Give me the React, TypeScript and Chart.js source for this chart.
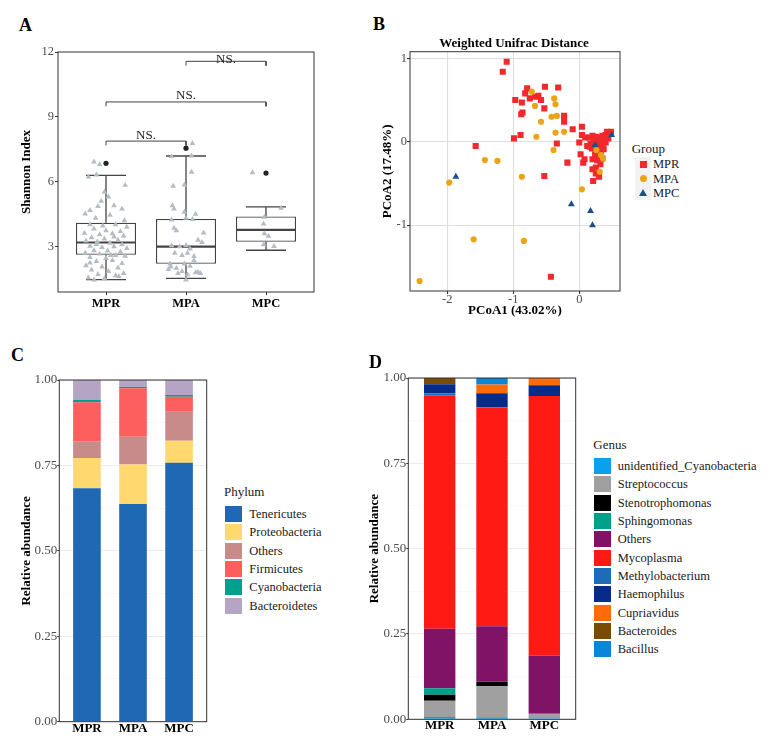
import React, { useEffect, useRef } from 'react';
import { Chart, registerables } from 'chart.js';

Chart.register(...registerables);

const SERIF = '"Liberation Serif", "Times New Roman", "DejaVu Serif", serif';

const groups = ['MPR', 'MPA', 'MPC'];

// ---------- Panel A: Shannon index ----------
const shannonTicks = [3, 6, 9, 12];
const boxLow = [1.47, 1.53, 2.83];
const boxQ1 = [2.62, 2.21, 3.22];
const boxMedian = [3.19, 3.0, 3.77];
const boxQ3 = [4.1, 4.28, 4.39];
const boxHigh = [6.29, 7.19, 4.84];
const outlierGroup = [1, 2, 3];
const outlierValue = [6.85, 7.55, 6.4];
// [jitter offset, shannon]
const shannonMPR = [
  [-0.15, 6.92], [-0.08, 6.8], [-0.22, 6.22], [-0.12, 6.32], [0.24, 5.84], [-0.02, 5.52], [0.03, 5.3], [-0.06, 5.1],
  [-0.2, 4.68], [-0.1, 4.86], [0.1, 4.9], [0.2, 4.74], [-0.26, 4.52], [-0.13, 4.32], [0.05, 4.46], [0.23, 4.2],
  [-0.2, 4.02], [-0.04, 3.96], [0.12, 4.02], [0.26, 3.9], [-0.15, 3.82], [0.0, 3.74], [0.18, 3.7], [-0.27, 3.62],
  [-0.08, 3.56], [0.08, 3.6], [0.22, 3.5], [-0.18, 3.42], [-0.02, 3.36], [0.15, 3.3], [-0.25, 3.26], [-0.11, 3.22],
  [0.05, 3.16], [0.2, 3.1], [-0.2, 3.02], [-0.05, 2.96], [0.1, 3.0], [0.26, 2.92], [-0.15, 2.82], [0.02, 2.8],
  [0.18, 2.76], [-0.26, 2.7], [-0.08, 2.66], [0.12, 2.6], [0.24, 2.56], [-0.2, 2.5], [0.0, 2.46], [-0.12, 2.32],
  [0.08, 2.36], [0.2, 2.22], [-0.25, 2.12], [-0.05, 2.06], [0.15, 2.02], [-0.18, 1.92], [0.03, 1.86], [0.22, 1.76],
  [-0.1, 1.72], [0.12, 1.66], [-0.22, 1.56], [-0.02, 1.52], [0.16, 1.62], [-0.15, 1.46], [0.06, 2.6], [-0.12, 3.1],
  [0.1, 3.45], [-0.2, 2.25],
];
const shannonMPA = [
  [0.08, 7.78], [-0.18, 7.17], [0.07, 7.2], [0.07, 6.45], [-0.16, 5.8], [-0.02, 5.86], [-0.17, 4.9], [-0.15, 4.74],
  [-0.02, 4.6], [0.12, 4.5], [-0.18, 4.24], [0.08, 4.26], [0.0, 4.32], [-0.15, 3.86], [-0.12, 3.74], [0.22, 3.64],
  [0.15, 3.3], [0.2, 3.2], [-0.18, 3.05], [-0.08, 3.0], [0.0, 3.06], [0.05, 2.9], [-0.14, 2.7], [-0.05, 2.6],
  [0.02, 2.7], [0.1, 2.55], [-0.2, 2.2], [-0.12, 2.0], [-0.19, 2.06], [-0.05, 1.86], [0.05, 2.1], [0.12, 1.8],
  [0.18, 1.76], [0.02, 1.7], [-0.1, 1.76], [0.0, 1.46], [0.15, 1.82], [-0.02, 2.2], [0.1, 2.36], [-0.22, 1.95],
];
const shannonMPC = [
  [-0.17, 6.42], [0.19, 4.78], [-0.02, 4.36], [-0.03, 4.05], [-0.02, 3.6], [0.03, 3.48], [-0.03, 3.09], [0.1, 3.01],
];
// [from group, to group, height]
const brackets = [[1, 2, 7.88], [1, 3, 9.69], [2, 3, 11.57]];
const bracketLabels = ['NS.', 'NS.', 'NS.'];
const bracketLabelY = [7.96, 9.82, 11.49];

// ---------- Panel B: PCoA ----------
const pcoaTicksX = [-2, -1, 0];
const pcoaTicksY = [-1, 0, 1];
const pcoaMPR = [
  [-1.1, 0.96], [-1.16, 0.84], [-0.97, 0.5], [-0.87, 0.47], [-0.79, 0.64], [-0.82, 0.58], [-0.75, 0.52], [-0.67, 0.54],
  [-0.62, 0.55], [-0.58, 0.5], [-0.52, 0.66], [-0.32, 0.65], [-0.53, 0.4], [-0.86, 0.35], [-0.88, 0.33], [-0.23, 0.31],
  [-0.23, 0.24], [-0.1, 0.15], [0.04, 0.18], [0.04, 0.08], [0.09, 0.05], [-0.99, 0.04], [-0.89, 0.08], [-1.57, -0.05],
  [-0.34, -0.02], [0.0, -0.01], [0.02, -0.15], [0.08, -0.21], [0.06, -0.25], [-0.18, -0.25], [-0.53, -0.41], [0.2, -0.21],
  [0.2, -0.33], [0.25, -0.31], [0.25, -0.38], [0.21, -0.47], [0.3, -0.42], [0.16, -0.06], [-0.43, -1.62],
  [0.15, 0.05], [0.2, 0.07], [0.25, 0.06], [0.3, 0.05], [0.35, 0.07], [0.4, 0.08], [0.45, 0.1], [0.48, 0.12], [0.42, 0.12],
  [0.22, 0.02], [0.28, 0.0], [0.33, 0.02], [0.38, 0.03], [0.44, 0.04], [0.17, -0.02], [0.25, -0.04], [0.3, -0.06],
  [0.36, -0.03], [0.4, -0.01], [0.28, -0.1], [0.33, -0.12], [0.37, -0.09], [0.3, -0.17], [0.35, -0.2], [0.27, -0.22],
  [0.32, -0.27], [0.24, -0.15], [0.19, -0.08], [0.12, -0.05],
];
const pcoaMPA = [
  [-0.72, 0.6], [-0.67, 0.43], [-0.38, 0.52], [-0.36, 0.45], [-0.42, 0.3], [-0.34, 0.31], [-0.58, 0.24], [-0.65, 0.06],
  [-0.36, 0.11], [-0.23, 0.12], [-0.39, -0.1], [-1.43, -0.22], [-1.24, -0.23], [-0.87, -0.42], [-1.97, -0.49], [0.04, -0.57],
  [-1.6, -1.17], [-0.84, -1.19], [-2.42, -1.67], [0.31, -0.36], [0.36, -0.2], [0.26, -0.1], [0.33, -0.16],
];
const pcoaMPC = [
  [-1.87, -0.42], [-0.12, -0.75], [0.17, -0.83], [0.2, -1.0], [0.24, -0.04], [0.49, 0.08],
];

// ---------- Panel C: phylum ----------
const phylumNames = ['Tenericutes', 'Proteobacteria', 'Others', 'Firmicutes', 'Cyanobacteria', 'Bacteroidetes'];
const phylumColors = ['#1F68B4', '#FFD970', '#C98B8A', '#FD5E5E', '#00A08F', '#B6A4C4'];
const phylumMPR = [0.683, 0.089, 0.049, 0.114, 0.007, 0.058];
const phylumMPA = [0.637, 0.116, 0.081, 0.142, 0.004, 0.02];
const phylumMPC = [0.758, 0.064, 0.085, 0.044, 0.005, 0.044];

// ---------- Panel D: genus ----------
const genusNames = ['unidentified_Cyanobacteria', 'Streptococcus', 'Stenotrophomonas', 'Sphingomonas', 'Others',
  'Mycoplasma', 'Methylobacterium', 'Haemophilus', 'Cupriavidus', 'Bacteroides', 'Bacillus'];
const genusColors = ['#0AA0EA', '#A0A0A0', '#000000', '#00A08A', '#801366', '#FF1B13', '#1F6BB8', '#062C87',
  '#FF6A0A', '#7B4A05', '#0A86D6'];
const genusMPR = [0.007, 0.047, 0.018, 0.019, 0.174, 0.683, 0.007, 0.027, 0.0, 0.018, 0.0];
const genusMPA = [0.006, 0.091, 0.014, 0.001, 0.161, 0.64, 0.002, 0.04, 0.026, 0.0, 0.019];
const genusMPC = [0.003, 0.013, 0.002, 0.0, 0.168, 0.761, 0.0, 0.032, 0.021, 0.0, 0.0];

const abundanceTicks = [0, 0.125, 0.25, 0.375, 0.5, 0.625, 0.75, 0.875, 1];

// ---------- helpers ----------
const framePlugin = {
  id: 'frame',
  afterDraw(chart: any) {
    const { ctx, chartArea: a } = chart;
    ctx.save();
    ctx.strokeStyle = '#333333';
    ctx.lineWidth = 1;
    ctx.strokeRect(a.left, a.top, a.right - a.left, a.bottom - a.top);
    ctx.restore();
  },
};

const bracketTextPlugin = {
  id: 'bracketText',
  afterDatasetsDraw(chart: any) {
    const { ctx } = chart;
    const x = chart.scales.x;
    const y = chart.scales.y;
    ctx.save();
    ctx.font = `13px ${SERIF}`;
    ctx.fillStyle = '#222';
    ctx.textAlign = 'center';
    ctx.textBaseline = 'alphabetic';
    brackets.forEach((b, i) => {
      ctx.fillText(bracketLabels[i], x.getPixelForValue((b[0] + b[1]) / 2), y.getPixelForValue(bracketLabelY[i]));
    });
    ctx.restore();
  },
};

const segments = (list: number[][]) =>
  list.flatMap(([x1, y1, x2, y2]) => [{ x: x1, y: y1 }, { x: x2, y: y2 }, { x: x2, y: null }]);

const isMajor = (c: any) => c.tick && Math.abs(c.tick.value * 4 - Math.round(c.tick.value * 4)) < 1e-9;

const baseOpts = (padTop: number, padRight: number) => ({
  animation: false,
  responsive: true,
  maintainAspectRatio: false,
  events: [],
  layout: { padding: { top: padTop, right: padRight, left: 0, bottom: 0 } },
  plugins: { legend: { display: false }, tooltip: { enabled: false }, title: { display: false } },
});

function stackedConfig(values: number[][], names: string[], colors: string[], yWidth: number, xHeight: number,
  padTop: number, padRight: number, titlePad: number) {
  return {
    type: 'bar',
    data: {
      datasets: names.map((n, k) => ({
        label: n,
        data: groups.map((g, i) => ({ x: i + 1, y: values[i][k] })),
        backgroundColor: colors[k],
        borderWidth: 0,
        barPercentage: 0.6,
        categoryPercentage: 1,
      })),
    },
    options: {
      ...baseOpts(padTop, padRight),
      scales: {
        x: {
          type: 'linear', min: 0.4, max: 3.6, offset: false, stacked: true,
          grid: { display: false, drawTicks: false, tickLength: 0 }, border: { display: false },
          afterBuildTicks: (s: any) => { s.ticks = groups.map((_, i) => ({ value: i + 1 })); },
          afterFit: (s: any) => { s.height = xHeight; },
          ticks: {
            autoSkip: false, maxRotation: 0, padding: 0, color: '#000',
            font: { family: SERIF, size: 13, weight: 'bold', lineHeight: 1 },
            callback: (v: any) => groups[Math.round(v) - 1],
          },
        },
        y: {
          type: 'linear', min: 0, max: 1, stacked: true,
          afterBuildTicks: (s: any) => { s.ticks = abundanceTicks.map((v) => ({ value: v })); },
          afterFit: (s: any) => { s.width = yWidth; },
          border: { display: false },
          grid: {
            color: (c: any) => (isMajor(c) ? '#EBEBEB' : '#F4F4F4'),
            lineWidth: (c: any) => (isMajor(c) ? 1 : 0.6),
            tickColor: (c: any) => (isMajor(c) ? '#333' : 'rgba(0,0,0,0)'),
            tickLength: 2,
          },
          ticks: {
            padding: 0, color: '#4d4d4d', font: { family: SERIF, size: 13 },
            callback: (v: any) => (Math.abs(v * 4 - Math.round(v * 4)) < 1e-9 ? Number(v).toFixed(2) : ''),
          },
          title: {
            display: true, text: 'Relative abundance', color: '#000',
            font: { family: SERIF, size: 13, weight: 'bold', lineHeight: 1.2 }, padding: { top: titlePad, bottom: 0 },
          },
        },
      },
    },
    plugins: [framePlugin],
  };
}

function Txt(props: { x: number; y: number; size?: number; bold?: boolean; children: any; color?: string }) {
  return (
    <div style={{
      position: 'absolute', left: props.x, top: props.y, transform: 'translateY(-50%)', whiteSpace: 'nowrap',
      fontFamily: SERIF, fontSize: props.size ?? 12.5, fontWeight: props.bold ? 'bold' : 'normal', lineHeight: 1,
      color: props.color ?? '#1a1a1a',
    }}>{props.children}</div>
  );
}

export default function App() {
  const refA = useRef<HTMLCanvasElement>(null);
  const refB = useRef<HTMLCanvasElement>(null);
  const refC = useRef<HTMLCanvasElement>(null);
  const refD = useRef<HTMLCanvasElement>(null);

  useEffect(() => {
    const charts: Chart[] = [];

    // ----- A -----
    const boxData = groups.map((g, i) => ({ x: i + 1, y: [boxQ1[i], boxQ3[i]] }));
    const whiskers = segments(groups.flatMap((g, i) => [
      [i + 1, boxQ3[i], i + 1, boxHigh[i]], [i + 1, boxQ1[i], i + 1, boxLow[i]],
    ]));
    const caps = segments(groups.flatMap((g, i) => [
      [i + 1 - 0.25, boxHigh[i], i + 1 + 0.25, boxHigh[i]], [i + 1 - 0.25, boxLow[i], i + 1 + 0.25, boxLow[i]],
    ]));
    const medians = segments(groups.map((g, i) => [i + 1 - 0.375, boxMedian[i], i + 1 + 0.375, boxMedian[i]]));
    const bracketPts = brackets.flatMap(([a, b, h]) => [
      { x: a, y: h - 0.2 }, { x: a, y: h }, { x: b, y: h }, { x: b, y: h - 0.2 }, { x: b, y: null },
    ]);
    const jitter = [shannonMPR, shannonMPA, shannonMPC].flatMap((list, gi) =>
      list.map(([dx, v]) => ({ x: gi + 1 + dx, y: v })));
    const lineDs = (data: any[], width: number, order: number) => ({
      type: 'line', data, borderColor: '#444', borderWidth: width, pointRadius: 0, fill: false,
      spanGaps: false, tension: 0, order,
    });

    charts.push(new Chart(refA.current as HTMLCanvasElement, {
      type: 'bar',
      data: {
        datasets: [
          { type: 'scatter', data: jitter, pointStyle: 'triangle', radius: 3.3, backgroundColor: '#B5BCC4', borderWidth: 0, order: 0 } as any,
          { type: 'scatter', data: outlierGroup.map((g, i) => ({ x: g, y: outlierValue[i] })), pointStyle: 'circle', radius: 2.6, backgroundColor: '#222', borderWidth: 0, order: 1 } as any,
          lineDs(medians, 2.2, 2) as any,
          lineDs(caps, 1.3, 3) as any,
          lineDs(whiskers, 1.3, 4) as any,
          lineDs(bracketPts, 1, 5) as any,
          { type: 'bar', data: boxData, backgroundColor: '#ffffff', borderColor: '#444', borderWidth: 1.3, borderSkipped: false, barPercentage: 0.75, categoryPercentage: 1, order: 6 } as any,
        ],
      },
      options: {
        ...baseOpts(12, 16),
        scales: {
          x: {
            type: 'linear', min: 0.4, max: 3.6, offset: false,
            grid: { drawOnChartArea: false, tickLength: 3, tickColor: '#333', offset: false }, border: { display: false },
            afterBuildTicks: (s: any) => { s.ticks = groups.map((_, i) => ({ value: i + 1 })); },
            afterFit: (s: any) => { s.height = 28; },
            ticks: {
              autoSkip: false, maxRotation: 0, padding: 1, color: '#000',
              font: { family: SERIF, size: 12.5, weight: 'bold', lineHeight: 1.2 },
              callback: (v: any) => groups[Math.round(v) - 1],
            },
          },
          y: {
            type: 'linear', min: 0.9, max: 12,
            afterBuildTicks: (s: any) => { s.ticks = shannonTicks.map((v) => ({ value: v })); },
            afterFit: (s: any) => { s.width = 58; },
            grid: { drawOnChartArea: false, tickLength: 3, tickColor: '#333' }, border: { display: false },
            ticks: { padding: 1, color: '#4d4d4d', font: { family: SERIF, size: 12.5 }, callback: (v: any) => String(v) },
            title: {
              display: true, text: 'Shannon Index', color: '#000',
              font: { family: SERIF, size: 13, weight: 'bold', lineHeight: 1.2 }, padding: { top: 19, bottom: 0 },
            },
          },
        },
      } as any,
      plugins: [framePlugin, bracketTextPlugin],
    } as any));

    // ----- B -----
    const pts = (list: number[][]) => list.map(([x, y]) => ({ x, y }));
    charts.push(new Chart(refB.current as HTMLCanvasElement, {
      type: 'scatter',
      data: {
        datasets: [
          { label: 'MPR', data: pts(pcoaMPR), pointStyle: 'rect', radius: 4.3, backgroundColor: '#F2282D', borderWidth: 0, order: 3 },
          { label: 'MPA', data: pts(pcoaMPA), pointStyle: 'circle', radius: 3.1, backgroundColor: '#EBA416', borderWidth: 0, order: 2 },
          { label: 'MPC', data: pts(pcoaMPC), pointStyle: 'triangle', radius: 4, backgroundColor: '#17508A', borderWidth: 0, order: 1 },
        ],
      },
      options: {
        ...baseOpts(11.7, 10),
        scales: {
          x: {
            type: 'linear', min: -2.565, max: 0.617,
            afterBuildTicks: (s: any) => { s.ticks = pcoaTicksX.map((v) => ({ value: v })); },
            afterFit: (s: any) => { s.height = 34; },
            grid: { color: '#DEDEDE', lineWidth: 1.1, tickColor: '#333', tickLength: 3 }, border: { display: false },
            ticks: { padding: -1, color: '#4d4d4d', font: { family: SERIF, size: 12.5, lineHeight: 1 }, callback: (v: any) => String(v) },
            title: {
              display: true, text: 'PCoA1 (43.02%)', color: '#000',
              font: { family: SERIF, size: 13, weight: 'bold', lineHeight: 1.2 }, padding: { top: 0, bottom: 7 },
            },
          },
          y: {
            type: 'linear', min: -1.79, max: 1.08,
            afterBuildTicks: (s: any) => { s.ticks = pcoaTicksY.map((v) => ({ value: v })); },
            afterFit: (s: any) => { s.width = 40; },
            grid: { color: '#DEDEDE', lineWidth: 1.1, tickColor: '#333', tickLength: 3 }, border: { display: false },
            ticks: { padding: 0, color: '#4d4d4d', font: { family: SERIF, size: 12.5 }, callback: (v: any) => String(v) },
            title: {
              display: true, text: 'PCoA2 (17.48%)', color: '#000',
              font: { family: SERIF, size: 13, weight: 'bold', lineHeight: 1.2 }, padding: { top: 10, bottom: 0 },
            },
          },
        },
      } as any,
      plugins: [framePlugin],
    } as any));

    // ----- C & D -----
    charts.push(new Chart(refC.current as HTMLCanvasElement,
      stackedConfig([phylumMPR, phylumMPA, phylumMPC], phylumNames, phylumColors, 59.3, 21.3, 10, 8.3, 19) as any));
    charts.push(new Chart(refD.current as HTMLCanvasElement,
      stackedConfig([genusMPR, genusMPA, genusMPC], genusNames, genusColors, 48.3, 23.7, 10, 9.3, 7.2) as any));

    return () => charts.forEach((c) => c.destroy());
  }, []);

  const box = (l: number, t: number, w: number, h: number) =>
    ({ position: 'absolute' as const, left: l, top: t, width: w, height: h });

  const bKeys = [
    { name: 'MPR', shape: <div style={{ width: 7, height: 7, background: '#F2282D' }} /> },
    { name: 'MPA', shape: <div style={{ width: 7, height: 7, borderRadius: '50%', background: '#EBA416' }} /> },
    {
      name: 'MPC', shape: <div style={{ width: 0, height: 0, borderLeft: '4px solid transparent', borderRight: '4px solid transparent', borderBottom: '7px solid #17508A' }} />,
    },
  ];

  return (
    <div style={{ position: 'absolute', left: 0, top: 0, width: 777, height: 743, background: '#fff', overflow: 'hidden' }}>
      <div style={box(0, 40, 330, 280)}><canvas ref={refA} /></div>
      <div style={box(370, 40, 260, 285)}><canvas ref={refB} /></div>
      <div style={box(0, 370, 215, 373)}><canvas ref={refC} /></div>
      <div style={box(360, 368, 225, 375)}><canvas ref={refD} /></div>

      <Txt x={19} y={25} size={18} bold color="#000">A</Txt>
      <Txt x={373} y={24} size={18} bold color="#000">B</Txt>
      <Txt x={11} y={355} size={18} bold color="#000">C</Txt>
      <Txt x={369} y={362} size={18} bold color="#000">D</Txt>

      <div style={{ position: 'absolute', left: 414, width: 200, top: 42, transform: 'translateY(-50%)', textAlign: 'center', fontFamily: SERIF, fontSize: 13, fontWeight: 'bold', lineHeight: 1, color: '#000' }}>Weighted Unifrac Distance</div>

      {/* Legend B */}
      <Txt x={631.7} y={148} size={13}>Group</Txt>
      {bKeys.map((k, i) => (
        <React.Fragment key={k.name}>
          <div style={{ position: 'absolute', left: 635, top: 157 + i * 14.3, width: 16, height: 14.3, background: '#F2F2F2', display: 'flex', alignItems: 'center', justifyContent: 'center' }}>{k.shape}</div>
          <Txt x={653} y={164.2 + i * 14.3} size={12.5}>{k.name}</Txt>
        </React.Fragment>
      ))}

      {/* Legend C */}
      <Txt x={224} y={491} size={13}>Phylum</Txt>
      {phylumNames.map((n, i) => (
        <React.Fragment key={n}>
          <div style={{ position: 'absolute', left: 225.3, top: 514 + i * 18.33 - 8, width: 16.4, height: 16, background: phylumColors[i] }} />
          <Txt x={249.3} y={514 + i * 18.33} size={12.5}>{n}</Txt>
        </React.Fragment>
      ))}

      {/* Legend D */}
      <Txt x={593.3} y={444.3} size={13}>Genus</Txt>
      {genusNames.map((n, i) => (
        <React.Fragment key={n}>
          <div style={{ position: 'absolute', left: 594.3, top: 466 + i * 18.33 - 8, width: 16.4, height: 16, background: genusColors[i] }} />
          <Txt x={617.7} y={466 + i * 18.33} size={12.5}>{n}</Txt>
        </React.Fragment>
      ))}
    </div>
  );
}
